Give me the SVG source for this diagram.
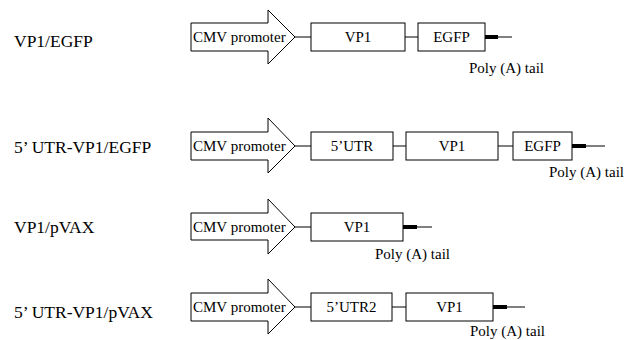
<svg xmlns="http://www.w3.org/2000/svg" width="636" height="340" viewBox="0 0 636 340">
<style>
.lbl{font-family:"Liberation Serif","Times New Roman",serif;font-size:17.5px;fill:#000}
.t{font-family:"Liberation Serif","Times New Roman",serif;font-size:15px;fill:#000}
.box{fill:#fff;stroke:#000;stroke-width:1}
.ln{stroke:#000;stroke-width:1;fill:none}
.thick{stroke:#000;stroke-width:4;fill:none}
</style>
<rect width="636" height="340" fill="#fff"/>
<g id="labels">
<text class="lbl" x="14" y="47">VP1/EGFP</text>
<text class="lbl" x="14" y="153">5’ UTR-VP1/EGFP</text>
<text class="lbl" x="14" y="233">VP1/pVAX</text>
<text class="lbl" x="14" y="318">5’ UTR-VP1/pVAX</text>
</g>
<g id="connectors">
<line class="ln" x1="295" y1="37" x2="311" y2="37"/>
<line class="ln" x1="405" y1="37" x2="418" y2="37"/>
<line class="thick" x1="485" y1="37" x2="498" y2="37"/>
<line class="ln" x1="498" y1="37" x2="512" y2="37"/>
<line class="ln" x1="295" y1="146" x2="311" y2="146"/>
<line class="ln" x1="393" y1="146" x2="406" y2="146"/>
<line class="ln" x1="498" y1="146" x2="513" y2="146"/>
<line class="thick" x1="572" y1="146" x2="586" y2="146"/>
<line class="ln" x1="586" y1="146" x2="605" y2="146"/>
<line class="ln" x1="295" y1="227" x2="311" y2="227"/>
<line class="thick" x1="403" y1="227" x2="417" y2="227"/>
<line class="ln" x1="417" y1="227" x2="432" y2="227"/>
<line class="ln" x1="295" y1="307" x2="311" y2="307"/>
<line class="ln" x1="392" y1="307" x2="406" y2="307"/>
<line class="thick" x1="493" y1="307" x2="507" y2="307"/>
<line class="ln" x1="507" y1="307" x2="525" y2="307"/>
</g>
<g id="row1">
<g id="r1-cmv"><path class="box" d="M191,23 H268 V10 L295,37 L268,64 V51 H191 Z"/><text class="t" x="193" y="42">CMV promoter</text></g>
<g id="r1-vp1"><rect class="box" x="311" y="23" width="94" height="28"/><text class="t" x="358" y="42" text-anchor="middle">VP1</text></g>
<g id="r1-egfp"><rect class="box" x="418" y="23" width="67" height="28"/><text class="t" x="451.5" y="42" text-anchor="middle">EGFP</text></g>
<text class="t" x="469" y="73">Poly (A) tail</text>
</g>
<g id="row2">
<g id="r2-cmv"><path class="box" d="M191,132 H268 V118 L295,146 L268,173 V160 H191 Z"/><text class="t" x="193" y="151">CMV promoter</text></g>
<g id="r2-utr"><rect class="box" x="311" y="132" width="82" height="28"/><text class="t" x="352" y="151" text-anchor="middle">5’UTR</text></g>
<g id="r2-vp1"><rect class="box" x="406" y="132" width="92" height="28"/><text class="t" x="452" y="151" text-anchor="middle">VP1</text></g>
<g id="r2-egfp"><rect class="box" x="513" y="132" width="59" height="28"/><text class="t" x="542.5" y="151" text-anchor="middle">EGFP</text></g>
<text class="t" x="549" y="177">Poly (A) tail</text>
</g>
<g id="row3">
<g id="r3-cmv"><path class="box" d="M191,213 H268 V199 L295,227 L268,254 V240 H191 Z"/><text class="t" x="193" y="232">CMV promoter</text></g>
<g id="r3-vp1"><rect class="box" x="311" y="213" width="92" height="28"/><text class="t" x="357" y="232" text-anchor="middle">VP1</text></g>
<text class="t" x="375" y="259">Poly (A) tail</text>
</g>
<g id="row4">
<g id="r4-cmv"><path class="box" d="M191,293 H268 V279 L295,307 L268,334 V321 H191 Z"/><text class="t" x="193" y="312">CMV promoter</text></g>
<g id="r4-utr"><rect class="box" x="311" y="293" width="81" height="28"/><text class="t" x="351.5" y="312" text-anchor="middle">5’UTR2</text></g>
<g id="r4-vp1"><rect class="box" x="406" y="293" width="87" height="28"/><text class="t" x="449.5" y="312" text-anchor="middle">VP1</text></g>
<text class="t" x="470" y="336">Poly (A) tail</text>
</g>
</svg>
